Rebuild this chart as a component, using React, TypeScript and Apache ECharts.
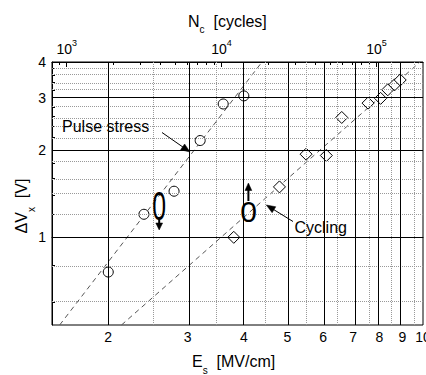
import React, { useEffect, useRef } from 'react';
import * as echarts from 'echarts';

const FONT = '"Liberation Sans", Arial, Helvetica, sans-serif';

// Axis ranges (raw units)
const E_RANGE = [1.5, 10];
const V_RANGE = [0.5, 4];
const N_RANGE = [804, 199526];

// Tick labels / grid values
const eLabels = [2, 3, 4, 5, 6, 7, 8, 9, 10];
const eMajorGrid = [2, 3, 4, 5, 6, 7, 8, 9];
const eMinorGrid = [2.5, 3.5, 4.5, 5.5, 6.5, 7.5, 8.5, 9.5];
const vLabels = [1, 2, 3, 4];
const vMajorGrid = [1, 2, 3];
const vMinorGrid = [0.6, 0.8, 1.2, 1.4, 1.6, 1.8, 2.2, 2.4, 2.6, 2.8, 3.2, 3.4, 3.6, 3.8];
const nMajor = [1e3, 1e4, 1e5];
const nMinor = [900, 2000, 3000, 4000, 5000, 6000, 7000, 8000, 9000,
  20000, 30000, 40000, 50000, 60000, 70000, 80000, 90000];

// Data: Pulse stress (circles)
const pulseE = [2.0, 2.4, 2.8, 3.2, 3.6, 4.0];
const pulseV = [0.76, 1.2, 1.44, 2.15, 2.87, 3.06];
// Data: Cycling (diamonds)
const cycE = [3.8, 4.8, 5.5, 6.1, 6.6, 7.55, 8.05, 8.35, 8.65, 8.9];
const cycV = [1.0, 1.49, 1.93, 1.91, 2.58, 2.89, 3.0, 3.21, 3.34, 3.47];
// Fit lines (end points)
const pulseFitE = [1.56, 4.39];
const pulseFitV = [0.5, 4.0];
const cycFitE = [2.14, 9.85];
const cycFitV = [0.5, 4.0];

const lg = (v: number) => Math.log10(v);
const pts = (xs: number[], ys: number[]) => xs.map((x, i) => [lg(x), lg(ys[i])]);

function arrowHead(x1: number, y1: number, x2: number, y2: number, len: number, half: number) {
  const dx = x2 - x1, dy = y2 - y1;
  const d = Math.hypot(dx, dy);
  const ux = dx / d, uy = dy / d;
  const bx = x2 - ux * len, by = y2 - uy * len;
  return [[x2, y2], [bx - uy * half, by + ux * half], [bx + uy * half, by - ux * half]];
}

function arrow(x1: number, y1: number, x2: number, y2: number, width = 1, len = 8, half = 3) {
  const head = arrowHead(x1, y1, x2, y2, len, half);
  const d = Math.hypot(x2 - x1, y2 - y1);
  const ex = x2 - ((x2 - x1) / d) * (len - 1);
  const ey = y2 - ((y2 - y1) / d) * (len - 1);
  return [
    { type: 'line', shape: { x1, y1, x2: ex, y2: ey }, style: { stroke: '#000', lineWidth: width } },
    { type: 'polygon', shape: { points: head }, style: { fill: '#000', stroke: '#000', lineWidth: 0.5 } },
  ];
}

const solid = { color: '#000', type: 'solid', width: 1 };
const dotted = { color: '#999', type: [1, 1], width: 1 };

const option: any = {
  animation: false,
  backgroundColor: '#fff',
  grid: {
    left: 52, top: 62, width: 371, height: 263, outerBoundsMode: 'none', containLabel: false,
    show: true, borderColor: '#000', borderWidth: 1, backgroundColor: 'transparent',
  },
  xAxis: [
    {
      type: 'value', position: 'bottom', min: lg(E_RANGE[0]), max: lg(E_RANGE[1]),
      axisLine: { show: true, lineStyle: { color: '#000' } },
      axisTick: { show: false },
      splitLine: { show: false },
      axisLabel: {
        customValues: eLabels.map(lg),
        formatter: (v: number) => String(Math.round(Math.pow(10, v))),
        color: '#000', fontSize: 14, fontFamily: FONT, margin: 5,
      },
    },
    {
      type: 'value', position: 'top', min: lg(N_RANGE[0]), max: lg(N_RANGE[1]),
      axisLine: { show: true, lineStyle: { color: '#000' } },
      axisTick: { show: true, inside: true, length: 3, customValues: nMinor.map(lg), lineStyle: { color: '#000' } },
      splitLine: { show: false },
      axisLabel: {
        customValues: nMajor.map(lg),
        formatter: (v: number) => `{b|10}{s|${Math.round(v)}}`,
        margin: 3,
        rich: {
          b: { fontSize: 14, fontFamily: FONT, color: '#000' },
          s: { fontSize: 9, fontFamily: FONT, color: '#000', padding: [0, 0, 12, 0] },
        },
      },
    },
    {
      type: 'value', position: 'top', min: lg(N_RANGE[0]), max: lg(N_RANGE[1]),
      axisLine: { show: false },
      axisTick: { show: true, inside: true, length: 5, customValues: nMajor.map(lg), lineStyle: { color: '#000' } },
      splitLine: { show: false },
      axisLabel: { show: false },
    },
  ],
  yAxis: [
    {
      type: 'value', min: lg(V_RANGE[0]), max: lg(V_RANGE[1]),
      axisLine: { show: true, lineStyle: { color: '#000' } },
      axisTick: { show: true, inside: true, length: 3, customValues: vMinorGrid.map(lg), lineStyle: { color: '#000' } },
      splitLine: { show: false },
      axisLabel: {
        customValues: vLabels.map(lg),
        formatter: (v: number) => String(Math.round(Math.pow(10, v))),
        color: '#000', fontSize: 14, fontFamily: FONT, margin: 6,
      },
    },
  ],
  series: [
    {
      type: 'line', data: [], z: 1, silent: true,
      markLine: {
        silent: true, symbol: ['none', 'none'], label: { show: false }, animation: false,
        data: [
          ...eMinorGrid.map((e) => ({ xAxis: lg(e), lineStyle: dotted })),
          ...vMinorGrid.map((v) => ({ yAxis: lg(v), lineStyle: dotted })),
          ...eMajorGrid.map((e) => ({ xAxis: lg(e), lineStyle: solid })),
          ...vMajorGrid.map((v) => ({ yAxis: lg(v), lineStyle: solid })),
        ],
      },
    },
    {
      type: 'line', data: pts(pulseFitE, pulseFitV), z: 2, silent: true, symbol: 'none',
      lineStyle: { color: '#555', width: 1, type: [5, 4] },
    },
    {
      type: 'line', data: pts(cycFitE, cycFitV), z: 2, silent: true, symbol: 'none',
      lineStyle: { color: '#555', width: 1, type: [5, 4] },
    },
    {
      type: 'scatter', data: pts(pulseE, pulseV), z: 3, symbol: 'circle', symbolSize: 10,
      itemStyle: { color: '#fff', borderColor: '#000', borderWidth: 1, opacity: 1 },
    },
    {
      type: 'scatter', data: pts(cycE, cycV), z: 3, symbol: 'diamond', symbolSize: 12,
      itemStyle: { color: '#fff', borderColor: '#000', borderWidth: 1, opacity: 1 },
    },
  ],
  graphic: [
    // Axis titles
    {
      type: 'text', x: 188, y: 21,
      style: {
        text: '{m|N}{s|c}{m|  [cycles]}', align: 'left', textAlign: 'left', verticalAlign: 'middle', textVerticalAlign: 'middle',
        rich: {
          m: { fontSize: 16, fontFamily: FONT, fill: '#000', color: '#000' },
          s: { fontSize: 10, fontFamily: FONT, fill: '#000', color: '#000', padding: [16, 0, 0, 0] },
        },
      },
    },
    {
      type: 'text', x: 192, y: 361,
      style: {
        text: '{m|E}{s|s}{m|  [MV/cm]}', align: 'left', textAlign: 'left', verticalAlign: 'middle', textVerticalAlign: 'middle',
        rich: {
          m: { fontSize: 16, fontFamily: FONT, fill: '#000', color: '#000' },
          s: { fontSize: 10, fontFamily: FONT, fill: '#000', color: '#000', padding: [18, 0, 0, 0] },
        },
      },
    },
    {
      type: 'text', x: 21, y: 206, rotation: Math.PI / 2,
      style: {
        text: '{m|ΔV}{s|x}{m|  [V]}', align: 'center', textAlign: 'center', verticalAlign: 'middle', textVerticalAlign: 'middle',
        rich: {
          m: { fontSize: 16, fontFamily: FONT, fill: '#000', color: '#000' },
          s: { fontSize: 10, fontFamily: FONT, fill: '#000', color: '#000', padding: [20, 0, 0, 0] },
        },
      },
    },
    // Annotations
    {
      type: 'text', x: 62, y: 126,
      style: { text: 'Pulse stress', fontSize: 16, fontFamily: FONT, fill: '#000', align: 'left', textAlign: 'left', verticalAlign: 'middle', textVerticalAlign: 'middle' },
    },
    ...arrow(162, 132.5, 190, 152, 1, 9, 3.5),
    {
      type: 'text', x: 294.5, y: 227,
      style: { text: 'Cycling', fontSize: 16, fontFamily: FONT, fill: '#000', align: 'left', textAlign: 'left', verticalAlign: 'middle', textVerticalAlign: 'middle' },
    },
    ...arrow(293, 221.5, 266.3, 205, 1, 9, 3.5),
    // "0" symbols with arrows
    {
      type: 'text', x: 159.2, y: 206, scaleX: 0.62,
      style: { text: '0', fontSize: 40, fontFamily: FONT, fill: '#000', align: 'center', textAlign: 'center', verticalAlign: 'middle', textVerticalAlign: 'middle' },
    },
    ...arrow(159.2, 219, 159.2, 230, 2, 7, 3.4),
    {
      type: 'text', x: 248.7, y: 211,
      style: { text: '0', fontSize: 30, fontFamily: FONT, fill: '#000', align: 'center', textAlign: 'center', verticalAlign: 'middle', textVerticalAlign: 'middle' },
    },
    ...arrow(248.4, 201, 248.4, 183, 2, 7.5, 3.4),
  ].map((g: any) => ({ z: 10, ...g })),
};

export default function App() {
  const ref = useRef<HTMLDivElement>(null);
  useEffect(() => {
    const chart = echarts.init(ref.current as HTMLDivElement, null, { renderer: 'svg' });
    chart.setOption(option);
    return () => chart.dispose();
  }, []);
  return (
    <div
      ref={ref}
      style={{ position: 'absolute', left: 0, top: 0, width: 426, height: 375, background: '#fff' }}
    />
  );
}
